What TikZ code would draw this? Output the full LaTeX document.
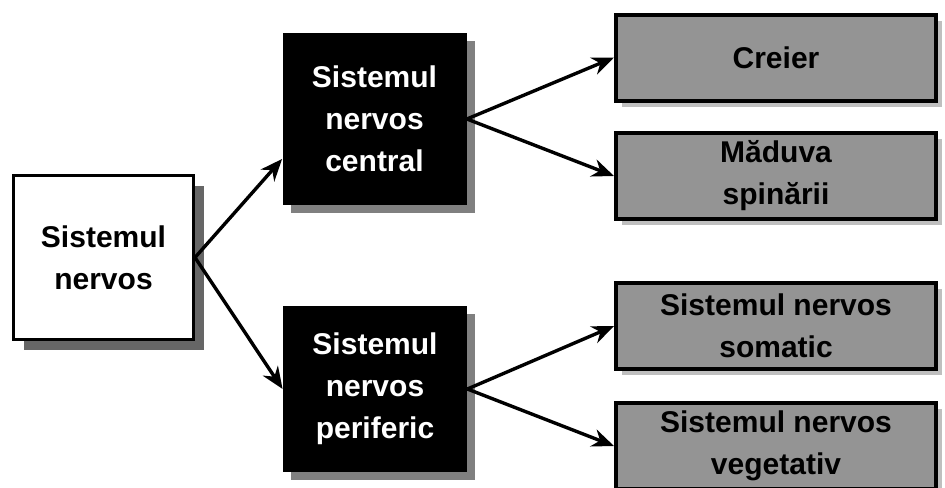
\documentclass[tikz,border=0pt]{standalone}
\usepackage{fontspec}
\setmainfont{Liberation Sans}
\usetikzlibrary{arrows.meta,shadows}

\begin{document}
\begin{tikzpicture}[x=0.5pt,y=-0.5pt,
  every node/.style={font=\bfseries\fontsize{15}{21}\selectfont, align=center, inner sep=0pt},
  rootbox/.style={draw=black, line width=1.5pt, fill=white, minimum width=90pt, minimum height=82pt,
    drop shadow={shadow xshift=5pt, shadow yshift=-5pt, fill=black!60, opacity=1}},
  midbox/.style={fill=black, text=white, minimum width=92pt, minimum height=83pt,
    drop shadow={shadow xshift=4pt, shadow yshift=-4pt, fill=black!50, opacity=1}},
  leafbox/.style={draw=black, line width=2pt, fill=black!42, minimum width=160pt, minimum height=43pt,
    drop shadow={shadow xshift=3pt, shadow yshift=-3pt, fill=black!25, opacity=1}},
  arr/.style={line width=1.7pt, -{Stealth[length=11pt,width=9pt]}}]
\useasboundingbox (0,0) rectangle (945,487);
% nodes
\node[rootbox] (sn) at (103.5,257.5) {Sistemul\\nervos};
\node[midbox, minimum height=86pt] (snc) at (374.5,119) {Sistemul\\nervos\\central};
\node[midbox] (snp) at (375,389) {Sistemul\\nervos\\periferic};
\node[leafbox] (creier) at (776,57.5) {Creier};
\node[leafbox] (maduva) at (776,176) {Măduva\\spinării};
\node[leafbox] (somatic) at (776,326) {Sistemul nervos\\somatic};
\node[leafbox] (vegetativ) at (776,446) {Sistemul nervos\\vegetativ};
% arrows
\draw[arr] (sn.east) -- ([yshift=-20pt]snc.west);
\draw[arr] (sn.east) -- (snp.west);
\draw[arr] (snc.east) -- (creier.west);
\draw[arr] (snc.east) -- (maduva.west);
\draw[arr] (snp.east) -- (somatic.west);
\draw[arr] (snp.east) -- (vegetativ.west);
\end{tikzpicture}
\end{document}
